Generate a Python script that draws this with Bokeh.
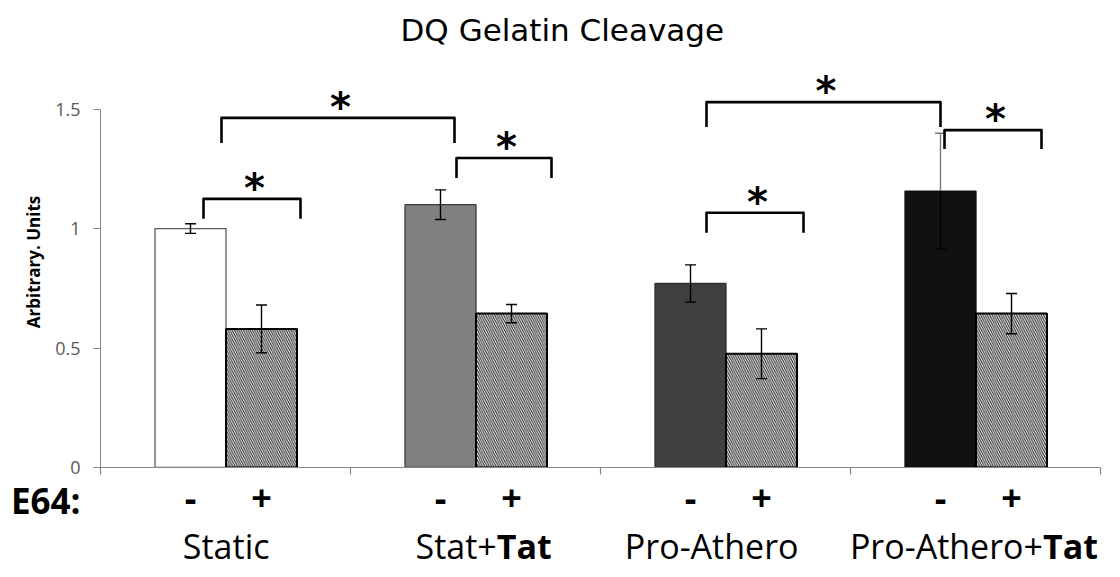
from bokeh.plotting import figure
from bokeh.layouts import column
from bokeh.models import ColumnDataSource, FixedTicker, Range1d
from bokeh.core.properties import value
from bokeh.embed import file_html
from bokeh.resources import INLINE

# ---------------- data ----------------
GROUPS = ["Static", "Stat+Tat", "Pro-Athero", "Pro-Athero+Tat"]
E64 = ["-", "+"]
MEAN_MINUS = [1.00, 1.10, 0.77, 1.157]
ERR_MINUS = [0.02, 0.062, 0.078, 0.242]
MEAN_PLUS = [0.58, 0.644, 0.476, 0.644]
ERR_PLUS = [0.10, 0.038, 0.104, 0.084]
Y_TICKS = [0, 0.5, 1, 1.5]
Y_TICK_LABELS = ["0", "0.5", "1", "1.5"]

# ---------------- styles / layout ----------------
FONT = "Open Sans"
W, H = 1104, 569
H_TOP = 475
FRAME_L, FRAME_R, FRAME_T, FRAME_B = 100, 1100, 55, 467
BAR_W = 0.284
MINUS_FILL = ["#ffffff", "#808080", "#404040", "#111111"]
MINUS_LINE = ["#595959", "#3c3c3c", "#303030", "#111111"]
ERR_UP_COLOR = ["black", "black", "black", "#7a7a7a"]
# significance brackets: (left, right, top, drop) in data units
BRACKETS = [(0.412, 0.800, 1.124, 0.083),
            (0.484, 1.416, 1.463, 0.105),
            (1.424, 1.804, 1.295, 0.083),
            (2.424, 2.812, 1.066, 0.084),
            (2.424, 3.360, 1.529, 0.104),
            (3.376, 3.764, 1.412, 0.079)]
GROUP_JUNCTION = [0.676, 1.585, 2.792, 3.77]
SIGN_Y = 497                         # vertical centre of the E64 row (page px)

n = len(GROUPS)
x_minus = [i + 0.502 - BAR_W / 2 for i in range(n)]
x_plus = [i + 0.502 + BAR_W / 2 for i in range(n)]

xr = Range1d(0, n)
p = figure(width=W, height=H_TOP, output_backend="svg", toolbar_location=None,
           x_range=xr, y_range=Range1d(0, 1.72),
           min_border_left=FRAME_L, min_border_right=W - FRAME_R,
           min_border_top=FRAME_T, min_border_bottom=H_TOP - FRAME_B)
p.outline_line_color = None
p.xgrid.visible = False
p.ygrid.visible = False

# title
p.title.text = "DQ Gelatin Cleavage"
p.title.text_font = "DejaVu Sans"
p.title.text_font_style = "normal"
p.title.text_font_size = "31px"
p.title.text_color = "black"
p.title.align = "left"
p.title.offset = 300
p.title.standoff = 18

# y axis
ya = p.yaxis[0]
ya.ticker = FixedTicker(ticks=Y_TICKS)
ya.major_label_overrides = {t: l for t, l in zip(Y_TICKS, Y_TICK_LABELS)}
ya.bounds = (0, 1.5)
ya.axis_line_color = "#868686"
ya.major_tick_line_color = "#868686"
ya.major_tick_out = 7
ya.major_tick_in = 0
ya.minor_tick_line_color = None
ya.major_label_text_font = FONT
ya.major_label_text_font_size = "18px"
ya.major_label_text_color = "#595959"
ya.major_label_standoff = 13
ya.axis_label = "Arbitrary. Units"
ya.axis_label_text_font = FONT
ya.axis_label_text_font_style = "bold"
ya.axis_label_text_font_size = "17px"
ya.axis_label_text_color = "black"
ya.axis_label_standoff = 7

# x axis: category boundaries (tick marks only)
xa = p.xaxis[0]
xa.ticker = FixedTicker(ticks=list(range(n + 1)))
xa.major_label_overrides = {i: "" for i in range(n + 1)}
xa.major_label_text_font_size = "1px"
xa.major_label_standoff = 0
xa.axis_line_color = "#868686"
xa.axis_line_width = 1.2
xa.major_tick_line_color = "#868686"
xa.major_tick_line_width = 1.2
xa.major_tick_out = 7
xa.major_tick_in = 0
xa.minor_tick_line_color = None

# bars
src_m = ColumnDataSource(dict(x=x_minus, top=MEAN_MINUS, fill=MINUS_FILL, line=MINUS_LINE))
p.vbar(x="x", top="top", width=BAR_W, bottom=0, source=src_m,
       fill_color="fill", line_color="line", line_width=1.3)
src_p = ColumnDataSource(dict(x=x_plus, top=MEAN_PLUS))
p.vbar(x="x", top="top", width=BAR_W, bottom=0, source=src_p,
       fill_color="white", line_color="black", line_width=2,
       hatch_pattern="left_diagonal_line", hatch_color="#2a2a2a",
       hatch_scale=4.5, hatch_weight=1.1)

# error bars
ex = x_minus + x_plus
em = MEAN_MINUS + MEAN_PLUS
ee = ERR_MINUS + ERR_PLUS
eup = ERR_UP_COLOR + ["black"] * n
src_e = ColumnDataSource(dict(x=ex, mean=em,
                              lo=[m - e for m, e in zip(em, ee)],
                              hi=[m + e for m, e in zip(em, ee)],
                              cup=eup))
p.segment(x0="x", y0="mean", x1="x", y1="hi", source=src_e, line_color="cup", line_width=1.4)
p.segment(x0="x", y0="lo", x1="x", y1="mean", source=src_e, line_color="black", line_width=1.4)
p.scatter(x="x", y="hi", source=src_e, marker="dash", size=11, line_color="cup", line_width=1.4)
p.scatter(x="x", y="lo", source=src_e, marker="dash", size=11, line_color="black", line_width=1.4)

# significance brackets and stars
bxs, bys, sx, sy = [], [], [], []
for (l, r, t, d) in BRACKETS:
    bxs.append([l, l, r, r])
    bys.append([t - d, t, t, t - d])
    sx.append((l + r) / 2 + 0.01)
    sy.append(t)
p.multi_line(xs=bxs, ys=bys, line_color="black", line_width=2.6, line_join="round")
p.text(x=sx, y=sy, text=["*"] * len(sx), text_font=value("DejaVu Sans"),
       text_font_style="bold", text_font_size="40px", text_align="center",
       text_baseline="middle", y_offset=-11, text_color="black")

# ---------------- label strip under the chart (shared x scale) ----------------
q = figure(width=W, height=H - H_TOP, output_backend="svg", toolbar_location=None,
           x_range=xr, y_range=Range1d(H, H_TOP),
           x_axis_location=None,
           min_border_left=FRAME_L, min_border_right=W - FRAME_R,
           min_border_top=0, min_border_bottom=0)
q.outline_line_color = None
q.xgrid.visible = False
q.ygrid.visible = False

# row label "E64:" as the strip's own y-axis label
qa = q.yaxis[0]
qa.ticker = FixedTicker(ticks=[SIGN_Y])
qa.major_label_overrides = {SIGN_Y: "E64:"}
qa.major_label_text_font = FONT
qa.major_label_text_font_style = "bold"
qa.major_label_text_font_size = "35px"
qa.major_label_text_color = "black"
qa.major_label_standoff = 14
qa.axis_line_color = None
qa.major_tick_line_color = None
qa.minor_tick_line_color = None

q.text(x=x_minus + x_plus, y=[SIGN_Y] * (2 * n), text=[E64[0]] * n + [E64[1]] * n,
       text_font=value(FONT), text_font_style="bold", text_font_size="36px",
       text_align="center", text_baseline="middle", text_color="black")

normals, bolds, bold_x = [], [], []
for name, xj in zip(GROUPS, GROUP_JUNCTION):
    if name.endswith("Tat"):
        normals.append(name[:-3]); bolds.append("Tat"); bold_x.append(xj)
    else:
        normals.append(name)
q.text(x=GROUP_JUNCTION, y=[H - 1] * n, text=normals, text_font=value(FONT),
       text_font_size="34px", text_align="right", text_baseline="bottom",
       text_color="black")
q.text(x=bold_x, y=[H - 1] * len(bold_x), text=bolds, text_font=value(FONT),
       text_font_style="bold", text_font_size="34px", text_align="left",
       text_baseline="bottom", text_color="black")

layout = column(p, q, spacing=0)
open("out.html", "w").write(file_html(layout, INLINE))
